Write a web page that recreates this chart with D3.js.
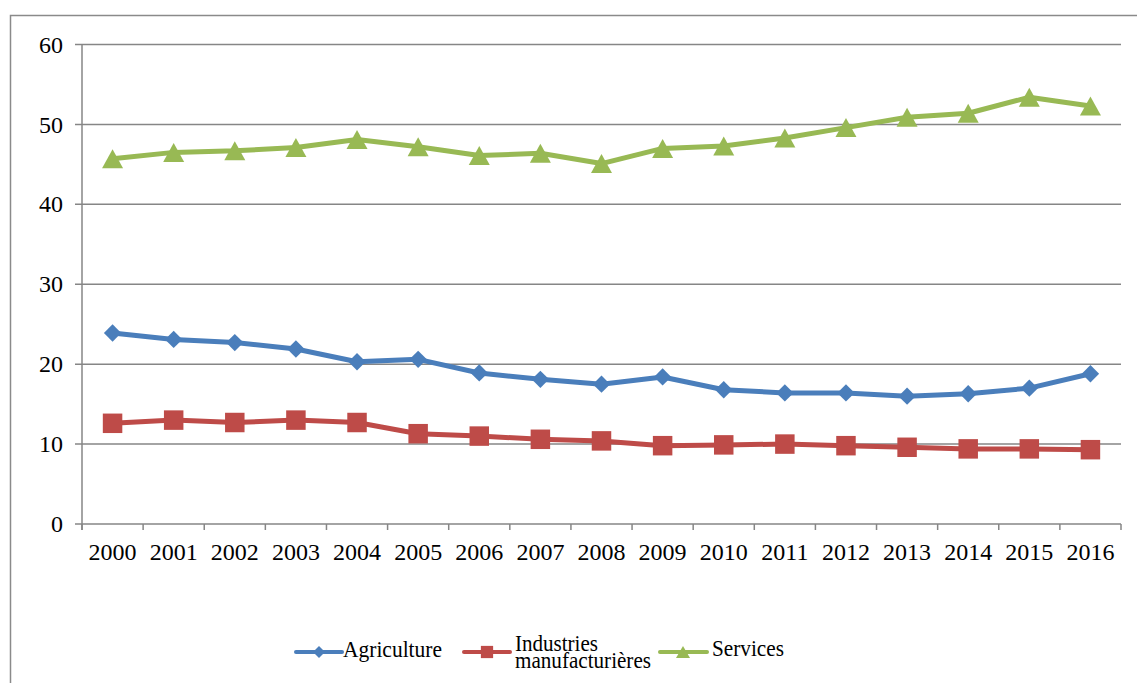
<!DOCTYPE html>
<html>
<head>
<meta charset="utf-8">
<script src="https://cdn.jsdelivr.net/npm/d3@7"></script>
<style>
  html, body { margin: 0; padding: 0; background: #fff; }
  svg { display: block; }
</style>
</head>
<body>
<svg id="chart" width="1137" height="683"></svg>
<script>
// Share of GDP by sector, 2000–2016
const years = ["2000","2001","2002","2003","2004","2005","2006","2007","2008",
               "2009","2010","2011","2012","2013","2014","2015","2016"];
const agriculture = [23.9, 23.1, 22.7, 21.9, 20.3, 20.6, 18.9, 18.1, 17.5,
                     18.4, 16.8, 16.4, 16.4, 16.0, 16.3, 17.0, 18.8];
const industries  = [12.6, 13.0, 12.7, 13.0, 12.7, 11.3, 11.0, 10.6, 10.4,
                     9.8, 9.9, 10.0, 9.8, 9.6, 9.4, 9.4, 9.3];
const services    = [45.7, 46.5, 46.7, 47.1, 48.1, 47.2, 46.1, 46.4, 45.1,
                     47.0, 47.3, 48.3, 49.6, 50.9, 51.4, 53.4, 52.3];
const yTicks = [0, 10, 20, 30, 40, 50, 60];
const seriesNames = ["Agriculture", "Industries manufacturières", "Services"];

const FONT = "'Liberation Serif', 'Times New Roman', serif";
const svg = d3.select("#chart");
const gridColor = "#868686";

// outer frame
svg.append("rect")
  .attr("x", 10.5).attr("y", 15.5)
  .attr("width", 1140).attr("height", 700)
  .attr("fill", "none").attr("stroke", "#8a8a8a").attr("stroke-width", 1.5);

const x = d3.scaleBand().domain(years).range([82, 1121]).padding(0);
const y = d3.scaleLinear().domain([0, 60]).range([524, 44.5]);

// horizontal gridlines
svg.append("g").selectAll("line").data(yTicks).join("line")
  .attr("x1", 75).attr("x2", 1121)
  .attr("y1", d => y(d)).attr("y2", d => y(d))
  .attr("stroke", gridColor).attr("stroke-width", 1.5);

// vertical axis line
svg.append("line")
  .attr("x1", 82).attr("x2", 82).attr("y1", y(60)).attr("y2", y(0) + 6)
  .attr("stroke", gridColor).attr("stroke-width", 1.5);

// category tick marks at band boundaries
const boundaries = years.map(d => x(d)).concat([x(years[years.length - 1]) + x.step()]);
svg.append("g").selectAll("line").data(boundaries).join("line")
  .attr("x1", d => d).attr("x2", d => d)
  .attr("y1", y(0)).attr("y2", y(0) + 6)
  .attr("stroke", gridColor).attr("stroke-width", 1.5);

// y tick labels
svg.append("g").selectAll("text").data(yTicks).join("text")
  .attr("x", 63).attr("y", d => y(d)).attr("dy", "0.34em")
  .attr("text-anchor", "end").attr("font-size", 24).attr("font-family", FONT)
  .text(d => d);

// x tick labels
svg.append("g").selectAll("text").data(years).join("text")
  .attr("x", d => x(d) + x.bandwidth() / 2).attr("y", 560)
  .attr("text-anchor", "middle").attr("font-size", 24).attr("font-family", FONT)
  .text(d => d);

const colors = ["#4A7EBB", "#BE4B48", "#98B954"];

const diamond = s => d3.symbol().type(d3.symbolSquare).size(s)();
const square = s => d3.symbol().type(d3.symbolSquare).size(s)();
const triangle = (w, h) => `M0,${-h / 2}L${w / 2},${h / 2}L${-w / 2},${h / 2}Z`;

const series = [
  { values: agriculture, color: colors[0], marker: diamond(150), rotate: 45 },
  { values: industries,  color: colors[1], marker: square(380),  rotate: 0 },
  { values: services,    color: colors[2], marker: triangle(21, 19), rotate: 0 }
];

const line = d3.line()
  .x((d, i) => x(years[i]) + x.bandwidth() / 2)
  .y(d => y(d));

series.forEach(s => {
  svg.append("path")
    .datum(s.values)
    .attr("d", line)
    .attr("fill", "none")
    .attr("stroke", s.color)
    .attr("stroke-width", 5)
    .attr("stroke-linejoin", "round");
  svg.append("g").selectAll("path").data(s.values).join("path")
    .attr("d", s.marker)
    .attr("transform", (d, i) =>
      `translate(${x(years[i]) + x.bandwidth() / 2},${y(d)}) rotate(${s.rotate})`)
    .attr("fill", s.color);
});

// legend
const legend = svg.append("g");
const legendItems = [
  { x0: 296, x1: 342, cx: 319, marker: diamond(72), rotate: 45, color: colors[0] },
  { x0: 464, x1: 510, cx: 487, marker: square(150), rotate: 0,  color: colors[1] },
  { x0: 660, x1: 707, cx: 683, marker: triangle(14, 12), rotate: 0, color: colors[2] }
];
const ly = 652;
legendItems.forEach(it => {
  legend.append("line")
    .attr("x1", it.x0).attr("x2", it.x1).attr("y1", ly).attr("y2", ly)
    .attr("stroke", it.color).attr("stroke-width", 4).attr("stroke-linecap", "round");
  legend.append("path")
    .attr("d", it.marker)
    .attr("transform", `translate(${it.cx},${ly}) rotate(${it.rotate})`)
    .attr("fill", it.color);
});

function legendText(str, lx, lyBase, len) {
  legend.append("text")
    .attr("x", lx).attr("y", lyBase)
    .attr("font-size", 24).attr("font-family", FONT)
    .attr("textLength", len).attr("lengthAdjust", "spacingAndGlyphs")
    .text(str);
}
legendText(seriesNames[0], 343, 657, 99);
legendText(seriesNames[2], 712, 656, 72);

// two-line label for the middle series, set as one text block
const wrapped = legend.append("text")
  .attr("font-size", 24).attr("font-family", FONT);
wrapped.append("tspan")
  .attr("x", 515).attr("y", 651)
  .attr("textLength", 83).attr("lengthAdjust", "spacingAndGlyphs")
  .text("Industries");
wrapped.append("tspan")
  .attr("x", 515).attr("y", 668)
  .attr("textLength", 136).attr("lengthAdjust", "spacingAndGlyphs")
  .text("manufacturières");
</script>
</body>
</html>
